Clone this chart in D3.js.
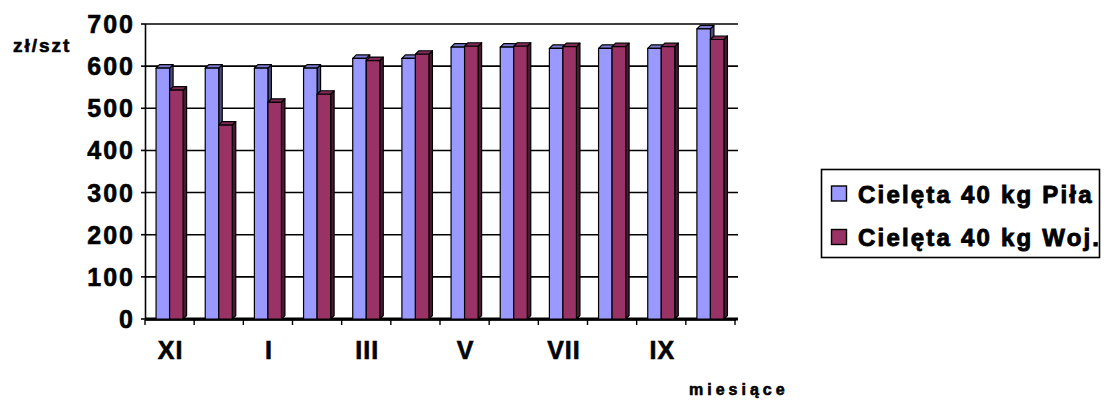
<!DOCTYPE html>
<html>
<head>
<meta charset="utf-8">
<script src="https://cdn.jsdelivr.net/npm/d3@7"></script>
<style>
  body { margin: 0; background: #fff; }
  text { font-family: "Liberation Sans", Arial, sans-serif; font-weight: 700; fill: #000; stroke: #000; stroke-width: 0.6px; }
  text.legend-label { stroke-width: 0.9px; }
</style>
</head>
<body>
<svg id="chart" width="1107" height="403"></svg>
<script>
// months on the x axis, only every other one gets a label
const months = ['XI', 'XII', 'I', 'II', 'III', 'IV', 'V', 'VI', 'VII', 'VIII', 'IX', 'X']
const shownMonths = ['XI', 'I', 'III', 'V', 'VII', 'IX']
const pilaValues = [600, 600, 600, 600, 623, 623, 650, 650, 647, 647, 647, 693]
const wojValues = [548, 465, 519, 538, 618, 633, 652, 652, 651, 651, 651, 668]
const seriesNames = ['Cielęta 40 kg Piła', 'Cielęta 40 kg Woj.']
const yTicks = [0, 100, 200, 300, 400, 500, 600, 700]

const colors = {front: ['#9999ff', '#993366'], top: ['#7c7cd6', '#7d2a54'], side: ['#4d4d85', '#4a1a33']}
const depth = 3.5

const svg = d3.select('#chart')

const x = d3.scaleBand().domain(months).range([145, 735])
const y = d3.scaleLinear().domain([0, 700]).range([319, 24])
const bw = x.bandwidth()
const xs = d3.scaleBand().domain([0, 1]).range([0.225 * bw, 0.775 * bw])

// gridlines on the back wall
svg.append('g')
    .selectAll('line')
    .data(yTicks.filter(d => d > 0))
    .join('line')
        .attr('x1', 146)
        .attr('x2', 738)
        .attr('y1', d => y(d))
        .attr('y2', d => y(d))
        .attr('stroke', '#000')
        .attr('stroke-width', 1.6)

// floor
svg.append('line')
    .attr('x1', 146).attr('x2', 738)
    .attr('y1', y(0)).attr('y2', y(0))
    .attr('stroke', '#000').attr('stroke-width', 3)

// bars
const series = [pilaValues, wojValues]
const bars = svg.append('g')
series.forEach((values, s) => {
    values.forEach((v, i) => {
        const x0 = x(months[i]) + xs(s)
        const w = xs.bandwidth()
        const top = y(v) + 2
        const base = y(0)
        const g = bars.append('g')
            .attr('stroke', '#000')
            .attr('stroke-width', 1.2)
            .attr('stroke-linejoin', 'round')
        g.append('path')
            .attr('d', `M${x0 + w},${top} L${x0 + w + depth},${top - depth} L${x0 + w + depth},${base - depth} L${x0 + w},${base} Z`)
            .attr('fill', colors.side[s])
        g.append('path')
            .attr('d', `M${x0},${top} L${x0 + depth},${top - depth} L${x0 + w + depth},${top - depth} L${x0 + w},${top} Z`)
            .attr('fill', colors.top[s])
        g.append('rect')
            .attr('x', x0).attr('y', top)
            .attr('width', w).attr('height', base - top)
            .attr('fill', colors.front[s])
    })
})

// value axis
const yAxis = svg.append('g')
yAxis.append('line')
    .attr('x1', 145.5).attr('x2', 145.5)
    .attr('y1', y(700)).attr('y2', y(0) + 1)
    .attr('stroke', '#000').attr('stroke-width', 1.6)
yAxis.selectAll('line.tick')
    .data(yTicks)
    .join('line')
        .attr('class', 'tick')
        .attr('x1', 141).attr('x2', 146)
        .attr('y1', d => y(d)).attr('y2', d => y(d))
        .attr('stroke', '#000').attr('stroke-width', 1.6)
yAxis.selectAll('text')
    .data(yTicks)
    .join('text')
        .attr('x', 135)
        .attr('y', d => y(d))
        .attr('dy', '0.36em')
        .attr('text-anchor', 'end')
        .attr('font-size', 25)
        .attr('letter-spacing', 2)
        .text(d => d)

// category axis
const xAxis = svg.append('g')
xAxis.append('line')
    .attr('x1', 145).attr('x2', 736)
    .attr('y1', 320).attr('y2', 320)
    .attr('stroke', '#000').attr('stroke-width', 1.4)
xAxis.selectAll('line.tick')
    .data(months.map(m => x(m)).concat([x.range()[1]]))
    .join('line')
        .attr('class', 'tick')
        .attr('x1', d => d).attr('x2', d => d)
        .attr('y1', 320).attr('y2', 325)
        .attr('stroke', '#000').attr('stroke-width', 1.4)
xAxis.selectAll('text')
    .data(shownMonths)
    .join('text')
        .attr('x', d => x(d) + bw / 2 + 1)
        .attr('y', 359)
        .attr('text-anchor', 'middle')
        .attr('font-size', 25)
        .attr('letter-spacing', 1)
        .text(d => d)

// axis titles
svg.append('text')
    .attr('x', 13).attr('y', 52)
    .attr('font-size', 19)
    .attr('letter-spacing', 2)
    .text('zł/szt')
svg.append('text')
    .attr('x', 689).attr('y', 395)
    .attr('font-size', 16)
    .attr('letter-spacing', 4)
    .text('miesiące')

// legend
const legend = svg.append('g')
legend.append('rect')
    .attr('x', 821.5).attr('y', 169.5)
    .attr('width', 278).attr('height', 88)
    .attr('fill', '#fff').attr('stroke', '#000').attr('stroke-width', 1.6)
seriesNames.forEach((name, s) => {
    legend.append('rect')
        .attr('x', 831.5).attr('y', 186 + s * 43.5)
        .attr('width', 15).attr('height', 15)
        .attr('fill', colors.front[s])
        .attr('stroke', '#000').attr('stroke-width', 1.4)
    legend.append('text')
        .attr('class', 'legend-label')
        .attr('x', 858).attr('y', 202.5 + s * 43.5)
        .attr('font-size', 24)
        .attr('letter-spacing', 2.2)
        .text(name)
})
</script>
</body>
</html>
